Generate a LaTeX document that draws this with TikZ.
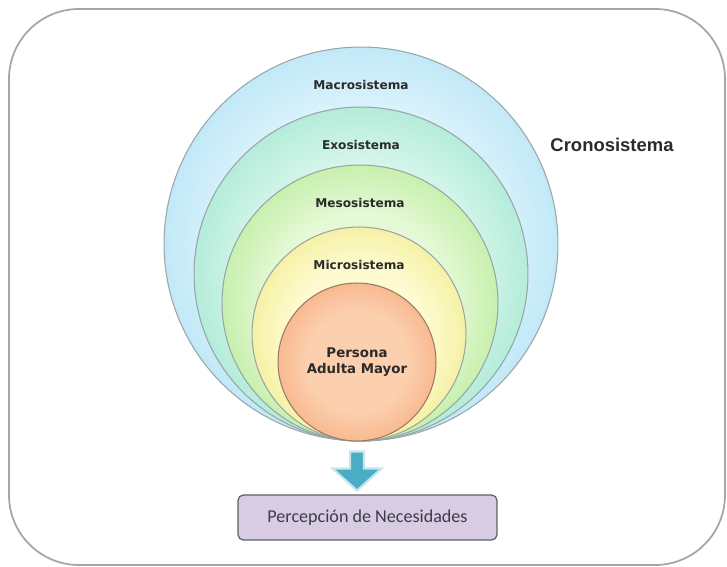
\documentclass[tikz,border=0pt]{standalone}
\usepackage{fontspec}
\setmainfont{Liberation Sans}
\newfontfamily\ringfont{DejaVu Sans}
\newfontfamily\boxfont{Carlito}
\usetikzlibrary{positioning}

\definecolor{framegray}{HTML}{A6A6A6}
\definecolor{ringline}{HTML}{98A6A8}
\definecolor{personaline}{HTML}{9C7A66}
\definecolor{labeltext}{HTML}{2B2B2B}
\definecolor{flechafill}{HTML}{4BACC6}
\definecolor{flechaborde}{HTML}{C6E6EF}
\definecolor{boxfill}{HTML}{D8CCE4}
\definecolor{boxline}{HTML}{5E5E66}
\definecolor{boxtext}{HTML}{3C3C46}
\colorlet{ringin}{white}
\colorlet{ringout}{white}

% soft fill, darker towards the rim
\pgfdeclareradialshading[ringin,ringout]{ringshade}{\pgfpoint{0bp}{0bp}}{%
  color(0bp)=(ringin); color(16bp)=(ringin); color(25bp)=(ringout); color(50bp)=(ringout)}

\tikzset{
  ring/.style 2 args={circle, draw=ringline, line width=0.6pt, inner sep=0pt,
    shading=ringshade, ringcols={#1}{#2}},
  ringcols/.code 2 args={\definecolor{ringin}{HTML}{#1}\definecolor{ringout}{HTML}{#2}},
  ringlabel/.style={font=\ringfont\bfseries\fontsize{6.9}{8}\selectfont, text=labeltext, inner sep=1pt},
  necbox/.style={draw=boxline, fill=boxfill, line width=0.7pt, rounded corners=3pt,
    minimum width=5.18cm, minimum height=0.9cm, text=boxtext,
    font=\boxfont\fontsize{10.3}{12}\selectfont},
}

\begin{document}
\begin{tikzpicture}[x=0.02cm, y=-0.02cm]
\useasboundingbox (0,0) rectangle (727,567);

% outer frame
\draw[framegray, line width=1pt, rounded corners=1.4cm] (9,9) rectangle (725,565);

% nested systems, largest first
\node[ring={DFF4FC}{C2E9F8}, minimum size=7.88cm] (macro) at (361,244) {};
\node[ring={D8F7EC}{B4ECDA}, minimum size=6.68cm] (exo) at (361,274) {};
\node[ring={E5F9D6}{C8F0AE}, minimum size=5.52cm] (meso) at (360,303) {};
\node[ring={FDFBCF}{F6F1A6}, minimum size=4.28cm] (micro) at (359,334) {};
\node[ring={FCCFAE}{F8BA90}, draw=personaline, minimum size=3.16cm, align=center,
  font=\ringfont\bfseries\fontsize{7.6}{9}\selectfont, text=labeltext] (persona) at (357,362) {Persona\\Adulta Mayor};

% ring names
\node[ringlabel, below=0.64cm of macro.north] (macrolbl) {Macrosistema};
\node[ringlabel, below=0.64cm of exo.north] (exolbl) {Exosistema};
\node[ringlabel, below=0.64cm of meso.north] (mesolbl) {Mesosistema};
\node[ringlabel, below=0.64cm of micro.north] (microlbl) {Microsistema};

\node[font=\bfseries\fontsize{10.5}{12}\selectfont, text=labeltext] (crono) at (612,145) {Cronosistema};

% block arrow
\coordinate (flecha) at ([yshift=-0.2cm]persona.south);
\draw[flechaborde, line width=1.2pt, fill=flechafill, line join=miter]
  (flecha) ++(-7,0) -- ++(14,0) -- ++(0,17) -- ++(17.5,0) -- ++(-24.5,22)
  -- ++(-24.5,-22) -- ++(17.5,0) -- cycle;

\node[necbox] (necesidades) at (367.5,517.5) {Percepción de Necesidades};

\end{tikzpicture}
\end{document}
